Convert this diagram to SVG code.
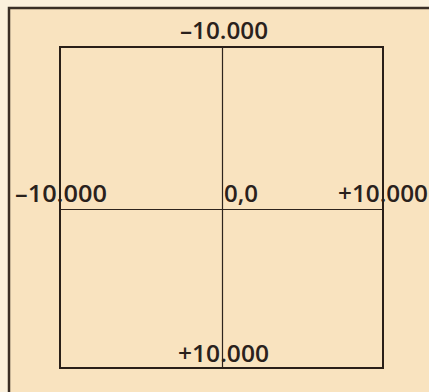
<svg xmlns="http://www.w3.org/2000/svg" width="429" height="392" viewBox="0 0 429 392">
<style>
.lbl{font-family:"Open Sans","DejaVu Sans",sans-serif;font-size:23px;font-weight:600;fill:#2a211c;}
.frame{fill:none;stroke:#3a2e26;stroke-width:2.5;}
.sq{fill:none;stroke:#2a1f18;stroke-width:2;}
.ax{stroke:#2e241d;stroke-width:1.2;}
</style>
<rect x="0" y="0" width="429" height="392" fill="#fbf0dc"/>
<rect x="9" y="8" width="420" height="384" fill="#f9e3bf"/>
<g id="frame"><path class="frame" d="M9,392 V8 H429"/></g>
<g id="grid">
<rect class="sq" x="60" y="47" width="323" height="321"/>
</g>
<g id="connectors">
<line class="ax" x1="222.5" y1="47" x2="222.5" y2="368"/>
<line class="ax" x1="60" y1="209.5" x2="383" y2="209.5"/>
</g>
<g id="label-top"><text class="lbl" x="180" y="38.5" textLength="88" lengthAdjust="spacingAndGlyphs">–10.000</text></g>
<g id="label-left"><text class="lbl" x="15" y="201.5" textLength="92" lengthAdjust="spacingAndGlyphs">–10.000</text></g>
<g id="label-center"><text class="lbl" x="224" y="201.5" textLength="34" lengthAdjust="spacingAndGlyphs">0,0</text></g>
<g id="label-right"><text class="lbl" x="338" y="201.5" textLength="90" lengthAdjust="spacingAndGlyphs">+10.000</text></g>
<g id="label-bottom"><text class="lbl" x="178" y="362" textLength="91" lengthAdjust="spacingAndGlyphs">+10.000</text></g>
</svg>
